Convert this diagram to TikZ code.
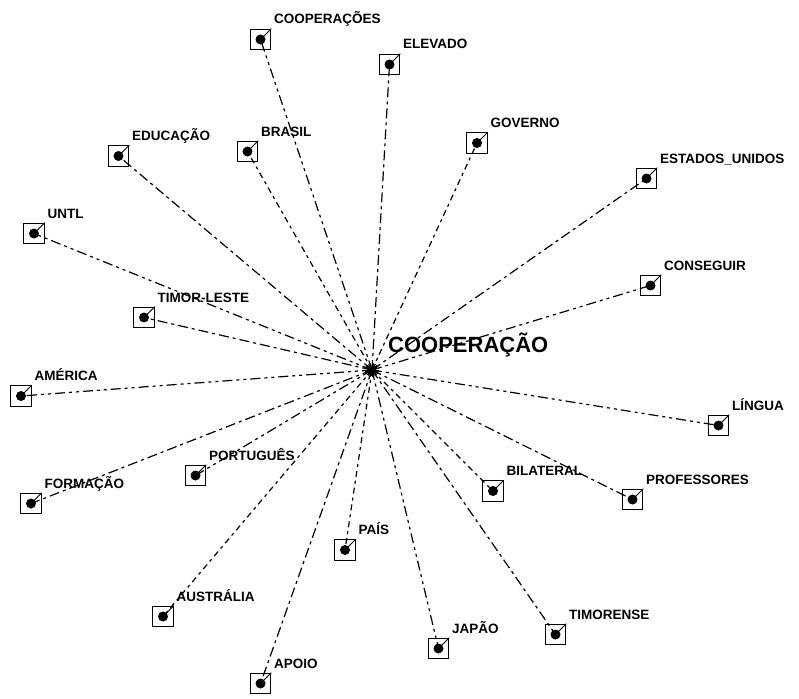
\documentclass[tikz,border=0pt]{standalone}
\usepackage{fontspec}
\setmainfont{Liberation Sans}
\begin{document}
\begin{tikzpicture}[x=1pt,y=-1pt,
  link/.style={line width=1.2pt, black},
  dda/.style={dash pattern=on 10pt off 4pt on 3pt off 4pt},
  ddb/.style={dash pattern=on 10pt off 4pt on 3pt off 4pt on 3pt off 4pt},
  ddc/.style={dash pattern=on 6pt off 4pt on 3pt off 4pt},
  wordbox/.style={draw, line width=1.1pt, minimum size=20.5pt, inner sep=0pt},
  worddot/.style={circle, fill=black, minimum size=10pt, inner sep=0pt},
  wordlabel/.style={font=\bfseries\fontsize{13.5}{16}\selectfont, anchor=base west, inner sep=0pt},
  hublabel/.style={font=\bfseries\fontsize{22}{26}\selectfont, anchor=base west, inner sep=0pt}]
\useasboundingbox (0,0) rectangle (799,698);
\fill[white] (0,0) rectangle (799,698);

% central word
\coordinate (hub) at (372,370);
\node[hublabel] (hublbl) at (388,352) {COOPERAÇÃO};

% surrounding words: name / x / y / text / dash style
\foreach \n/\x/\y/\t/\p in {
  cooperacoes/260.5/39.5/COOPERAÇÕES/ddb,
  elevado/389.5/64.5/ELEVADO/dda,
  governo/477/143/GOVERNO/ddc,
  estados/646.5/178.5/ESTADOS\_UNIDOS/dda,
  conseguir/650.5/285.5/CONSEGUIR/ddb,
  lingua/718.5/425.5/LÍNGUA/ddb,
  professores/632.5/499.5/PROFESSORES/dda,
  bilateral/493/491/BILATERAL/ddc,
  timorense/555.5/634.5/TIMORENSE/dda,
  japao/438.5/648.5/JAPÃO/ddb,
  pais/345/550/PAÍS/ddc,
  apoio/260.5/683.5/APOIO/dda,
  australia/163/616.5/AUSTRÁLIA/ddc,
  formacao/31/503.5/FORMAÇÃO/dda,
  portugues/195.5/475.5/PORTUGUÊS/ddb,
  america/21/396/AMÉRICA/ddb,
  timorleste/144/317.5/TIMOR-LESTE/dda,
  untl/34/233.5/UNTL/ddb,
  educacao/118.5/156/EDUCAÇÃO/dda,
  brasil/247.5/151.5/BRASIL/ddc}
{
  \node[wordbox] (\n) at (\x,\y) {};
  \draw[link,\p] (hub) -- (\n.center);
  \node[worddot] (\n-dot) at (\n.center) {};
  \draw[line width=0.9pt] (\n-dot.center) -- (\n.north east);
  \node[wordlabel] (\n-lbl) at (\x+13.5,\y-15.5) {\t};
}

% dense burst where all the links meet
\foreach \a in {0,15,...,345}
  \draw[line width=0.8pt] (hub) -- ++(\a:7pt);
\fill (hub) circle (3.5pt);
\end{tikzpicture}
\end{document}
